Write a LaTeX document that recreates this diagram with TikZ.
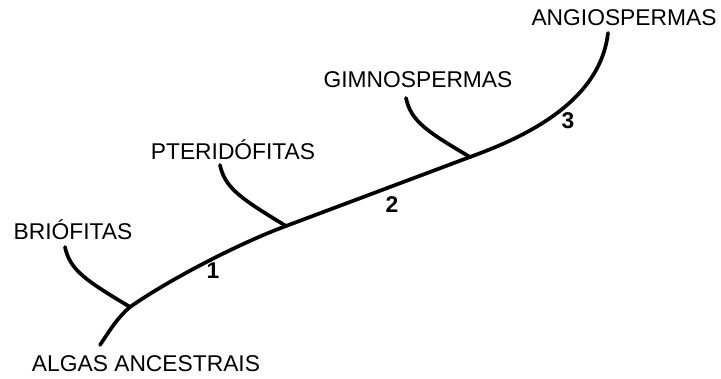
\documentclass[tikz,border=0pt]{standalone}
\usepackage{fontspec}
\setmainfont{Liberation Sans}
\begin{document}
\begin{tikzpicture}[x=1pt,y=-1pt,
  lbl/.style={inner sep=0pt,font=\fontsize{22.8}{26}\selectfont},
  num/.style={inner sep=0pt,font=\fontsize{22.8}{26}\selectfont\bfseries},
  branch/.style={line width=3.7pt,line cap=round,line join=round}]
\useasboundingbox (0,0) rectangle (721,378);
% labels
\node[lbl,text depth=0pt] (alg) at (146,364) {ALGAS ANCESTRAIS};
\node[lbl] (bri) at (73,230) {BRIÓFITAS};
\node[lbl] (pte) at (233,150) {PTERIDÓFITAS};
\node[lbl] (gim) at (418,80) {GIMNOSPERMAS};
\node[lbl] (ang) at (624,18) {ANGIOSPERMAS};
\node[num] (n1) at (213,271) {1};
\node[num] (n2) at (392,205) {2};
\node[num] (n3) at (568,121) {3};
% key points
\coordinate (s) at (100,345);
\coordinate (j1) at (130,307);
\coordinate (j2) at (286,226);
\coordinate (j3) at (470,157);
\coordinate (e) at (608,33);
\coordinate (b1) at (65,247);
\coordinate (b2) at (220,165);
\coordinate (b3) at (406,98);
% main line
\draw[branch] (s) .. controls (110,330) and (118,317) .. (j1)
  .. controls (170,279) and (240,243) .. (j2) -- (j3)
  .. controls (525,137) and (600,102) .. (e);
% side branches
\draw[branch] (b1) .. controls (70,270) and (85,280) .. (j1);
\draw[branch] (b2) .. controls (225,188) and (240,198) .. (j2);
\draw[branch] (b3) .. controls (411,121) and (426,131) .. (j3);
\end{tikzpicture}
\end{document}
